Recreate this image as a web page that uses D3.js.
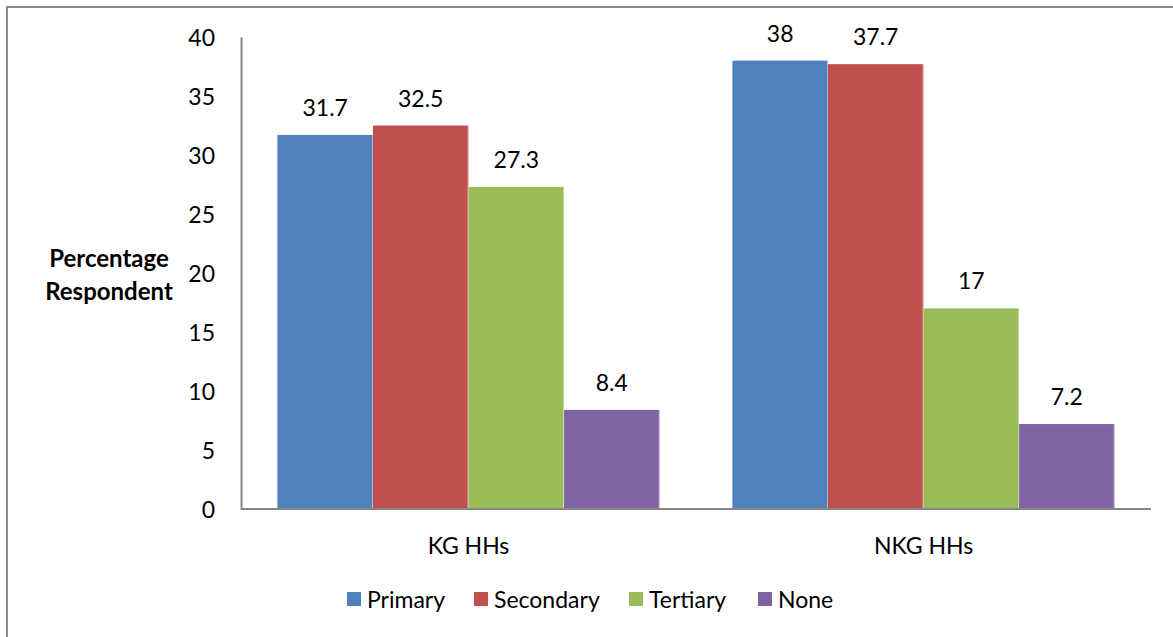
<!DOCTYPE html>
<html>
<head>
<meta charset="utf-8">
<script src="https://cdn.jsdelivr.net/npm/d3@7"></script>
<style>
  html, body { margin: 0; padding: 0; background: #fff; }
  svg { display: block; }
  text { font-family: Lato, "Open Sans", "Liberation Sans", sans-serif; fill: #000; }
</style>
</head>
<body>
<svg id="chart" width="1173" height="637"></svg>
<script>
// Education level of household heads, by household group (%)
const groups = ["KG HHs", "NKG HHs"];
const series = ["Primary", "Secondary", "Tertiary", "None"];
const primary = [31.7, 38];
const secondary = [32.5, 37.7];
const tertiary = [27.3, 17];
const none = [8.4, 7.2];
const yTicks = [0, 5, 10, 15, 20, 25, 30, 35, 40];
const colors = ["#4F81BD", "#C0504D", "#9BBB59", "#8064A2"];

const values = [primary, secondary, tertiary, none];
const rows = groups.map((g, gi) => ({
  group: g,
  bars: series.map((s, si) => ({ series: s, value: values[si][gi], color: colors[si] }))
}));

const FONT = 23;
const svg = d3.select("#chart");

// outer frame
svg.append("rect")
  .attr("x", 7).attr("y", 7)
  .attr("width", 1180).attr("height", 650)
  .attr("fill", "none").attr("stroke", "#8c8c8c").attr("stroke-width", 2);

const plot = { left: 241, right: 1151, top: 37, bottom: 509 };

const x0 = d3.scaleBand().domain(groups).range([plot.left, plot.right]).paddingInner(0.16).paddingOuter(0.08);
const x1 = d3.scaleBand().domain(series).range([0, x0.bandwidth()]);
const y = d3.scaleLinear().domain([0, 40]).range([plot.bottom, plot.top]);

// bars
const g = svg.append("g");
const grp = g.selectAll("g.grp").data(rows).join("g")
  .attr("transform", d => `translate(${x0(d.group)},0)`);

grp.selectAll("rect").data(d => d.bars).join("rect")
  .attr("x", d => x1(d.series))
  .attr("y", d => y(d.value))
  .attr("width", x1.bandwidth())
  .attr("height", d => y(0) - y(d.value))
  .attr("fill", d => d.color);

// thin highlight on right edge of each bar
grp.selectAll("line.edge").data(d => d.bars).join("line")
  .attr("class", "edge")
  .attr("x1", d => x1(d.series) + x1.bandwidth() - 0.5)
  .attr("x2", d => x1(d.series) + x1.bandwidth() - 0.5)
  .attr("y1", d => y(d.value))
  .attr("y2", y(0))
  .attr("stroke", "#ffffff").attr("stroke-opacity", 0.45).attr("stroke-width", 1);

// value labels
grp.selectAll("text.val").data(d => d.bars).join("text")
  .attr("class", "val")
  .attr("x", d => x1(d.series) + x1.bandwidth() / 2)
  .attr("y", d => y(d.value) - 19)
  .attr("text-anchor", "middle")
  .attr("font-size", FONT)
  .text(d => d.value);

// y axis
const yAxis = d3.axisLeft(y).tickValues(yTicks).tickSize(0).tickPadding(26);
const ya = svg.append("g").attr("transform", `translate(${plot.left},0)`).call(yAxis);
ya.select(".domain").attr("stroke", "#868686").attr("stroke-width", 2);
ya.selectAll("text").attr("font-size", FONT).attr("dy", "0.35em")
  .style("font-family", "Lato, 'Open Sans', sans-serif").attr("fill", "#000");

// x axis
const xAxis = d3.axisBottom(x0).tickSize(0).tickPadding(29);
const xa = svg.append("g").attr("transform", `translate(0,${plot.bottom})`).call(xAxis);
xa.select(".domain").attr("stroke", "#868686").attr("stroke-width", 2)
  .attr("d", `M${plot.left},0H${plot.right}`);
xa.selectAll("text").attr("font-size", FONT)
  .style("font-family", "Lato, 'Open Sans', sans-serif").attr("fill", "#000");

// y axis title
const yt = svg.append("text")
  .attr("text-anchor", "middle")
  .attr("font-size", 24).attr("font-weight", "bold");
yt.append("tspan").attr("x", 109).attr("y", 267).text("Percentage");
yt.append("tspan").attr("x", 109).attr("y", 300).text("Respondent");

// legend
const legendX = [347, 474, 629, 758];
const lg = svg.append("g").selectAll("g").data(series).join("g")
  .attr("transform", (d, i) => `translate(${legendX[i]},592)`);
lg.append("rect").attr("width", 14).attr("height", 14).attr("fill", (d, i) => colors[i]);
lg.append("text").attr("x", 20).attr("y", 15.5).attr("font-size", FONT).text(d => d);
</script>
</body>
</html>
